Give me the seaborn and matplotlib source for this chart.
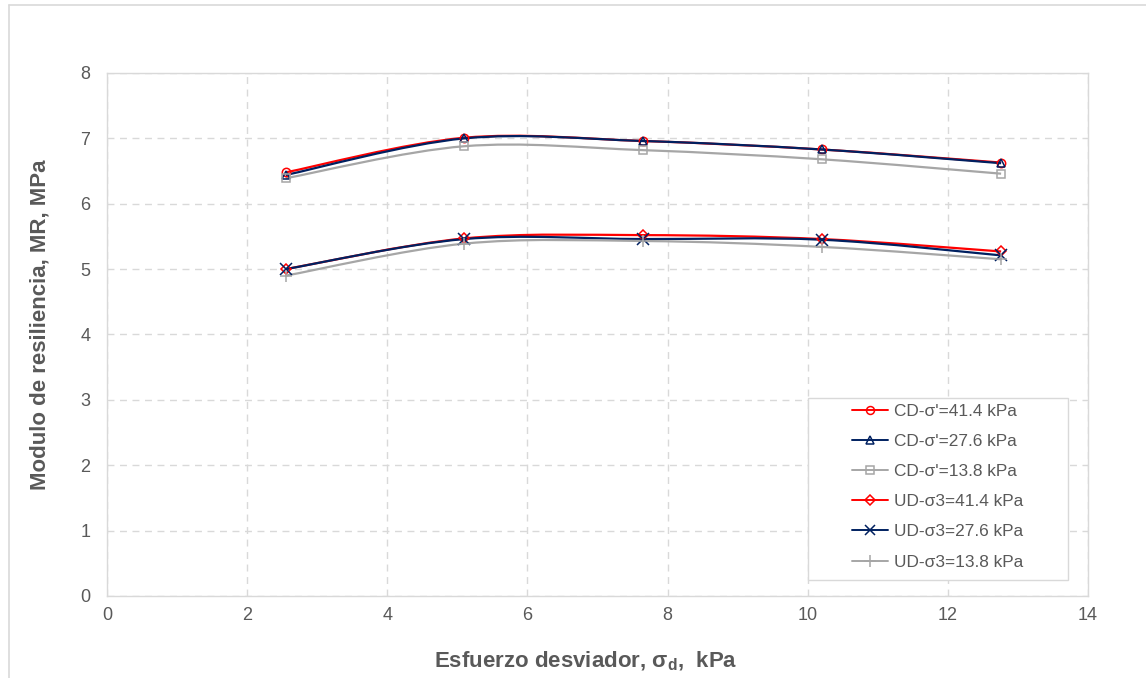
import numpy as np
import pandas as pd
import seaborn as sns
import matplotlib.pyplot as plt
from matplotlib.path import Path
from matplotlib.patches import PathPatch, Rectangle
from matplotlib.lines import Line2D

# deviator stress (kPa) and resilient modulus (MPa)
sigma_d = [2.55, 5.10, 7.65, 10.20, 12.76]

cd_414 = [6.48, 7.01, 6.96, 6.83, 6.63]
cd_276 = [6.44, 7.00, 6.96, 6.83, 6.62]
cd_138 = [6.39, 6.88, 6.82, 6.68, 6.46]
ud_414 = [5.00, 5.47, 5.52, 5.46, 5.27]
ud_276 = [5.00, 5.46, 5.46, 5.45, 5.21]
ud_138 = [4.90, 5.39, 5.43, 5.34, 5.15]

labels = ["CD-σ'=41.4 kPa", "CD-σ'=27.6 kPa", "CD-σ'=13.8 kPa",
          "UD-σ3=41.4 kPa", "UD-σ3=27.6 kPa", "UD-σ3=13.8 kPa"]
series = [cd_414, cd_276, cd_138, ud_414, ud_276, ud_138]

RED, NAVY, GREY = "#FF0000", "#002060", "#A6A6A6"
colors = [RED, NAVY, GREY, RED, NAVY, GREY]
markers = ["o", "^", "s", "D", "x", "+"]
msizes = [6, 6, 6, 5, 8, 9]

sns.set_style("white")
plt.rcParams["font.family"] = ["Liberation Sans", "DejaVu Sans"]
plt.rcParams["mathtext.fontset"] = "custom"
plt.rcParams["mathtext.rm"] = "Liberation Sans:bold"
plt.rcParams["mathtext.default"] = "rm"


def smooth_path(xs, ys):
    # excel-like smoothed line: cubic bezier through the points
    pts = np.column_stack([xs, ys]).astype(float)
    ext = np.vstack([pts[0], pts, pts[-1]])
    verts = [pts[0]]
    codes = [Path.MOVETO]
    for i in range(1, len(ext) - 2):
        p0, p1, p2, p3 = ext[i - 1], ext[i], ext[i + 1], ext[i + 2]
        verts += [p1 + (p2 - p0) / 6, p2 - (p3 - p1) / 6, p2]
        codes += [Path.CURVE4] * 3
    return Path(verts, codes)


df = pd.DataFrame({"sigma_d": sigma_d})

fig = plt.figure(figsize=(11.46, 6.78), dpi=100)
ax = fig.add_axes([107 / 1146, 1 - 596 / 678, (1088 - 107) / 1146, (596 - 73) / 678])

for lab, vals, c, m, ms in zip(labels, series, colors, markers, msizes):
    ax.add_patch(PathPatch(smooth_path(sigma_d, vals), facecolor="none",
                           edgecolor=c, lw=1.6, zorder=3))
    d = df.assign(mr=vals)
    sns.lineplot(data=d, x="sigma_d", y="mr", ax=ax, linestyle="", marker=m,
                 markersize=ms, markerfacecolor="none", markeredgecolor=c,
                 markeredgewidth=1.1, color=c, zorder=4)

ax.set_xlim(0, 14)
ax.set_ylim(0, 8)
ax.set_xticks(range(0, 15, 2))
ax.set_yticks(range(0, 9))
ax.grid(True, color="#D9D9D9", linestyle=(0, (5, 4)), lw=1.0)
for s in ax.spines.values():
    s.set_color("#D9D9D9")
    s.set_linewidth(1.0)
ax.tick_params(axis="both", length=0, labelsize=13, labelcolor="#595959")
ax.tick_params(axis="x", pad=8)
ax.tick_params(axis="y", pad=12)

ax.set_xlabel(r"Esfuerzo desviador, σ$_{d}$,  kPa", fontsize=16,
              fontweight="bold", color="#595959")
ax.xaxis.set_label_coords((585.5 - 107) / 981, -(661.5 - 596) / 523)
ax.xaxis.label.set_va("center")
ax.set_ylabel("Modulo de resiliencia, MR, MPa", fontsize=16,
              fontweight="bold", color="#595959")
ax.yaxis.set_label_coords(-(107 - 40) / 981, (596 - 325) / 523)
ax.yaxis.label.set_va("center")

# legend box drawn separately so the entries sit centred like in excel
x0, x1 = (808 - 107) / 981, (1068 - 107) / 981
y0, y1 = (596 - 580) / 523, (596 - 398) / 523
ax.add_patch(Rectangle((x0, y0), x1 - x0, y1 - y0, transform=ax.transAxes,
                       facecolor="white", edgecolor="#D9D9D9", lw=1.0, zorder=5))
handles = [Line2D([0], [0], color=c, lw=1.4, marker=m, markersize=ms * 0.95,
                  markerfacecolor="none", markeredgecolor=c, markeredgewidth=1.1)
           for c, m, ms in zip(colors, markers, msizes)]
leg = ax.legend(handles, labels, loc="center",
                bbox_to_anchor=((x0 + x1) / 2, (y0 + y1) / 2 + 0.004),
                fontsize=12.4, frameon=False, handlelength=2.1,
                labelspacing=0.87, handletextpad=0.35, labelcolor="#595959")
leg.set_zorder(6)

# outer chart border (top and left only visible)
fig.add_artist(Line2D([9 / 1146, 1], [1 - 5 / 678, 1 - 5 / 678],
                      transform=fig.transFigure, color="#D9D9D9", lw=1.2))
fig.add_artist(Line2D([9 / 1146, 9 / 1146], [0, 1 - 5 / 678],
                      transform=fig.transFigure, color="#D9D9D9", lw=1.2))

fig.savefig("out.png", dpi=100)
